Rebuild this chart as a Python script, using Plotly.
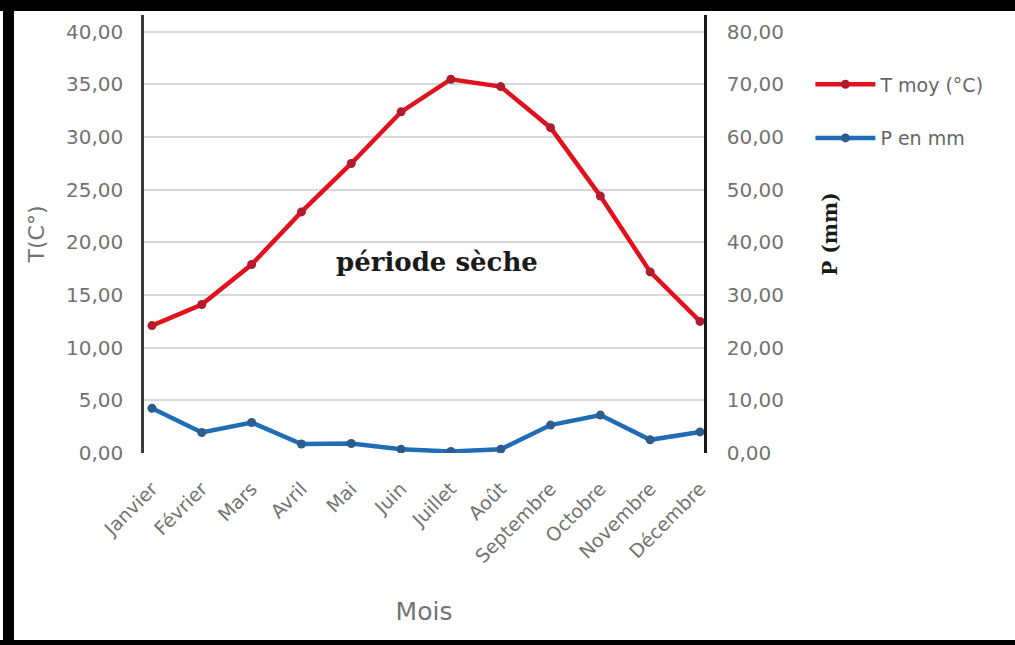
import plotly.graph_objects as go

mois = ["Janvier", "Février", "Mars", "Avril", "Mai", "Juin", "Juillet",
        "Août", "Septembre", "Octobre", "Novembre", "Décembre"]
t_moy = [12.1, 14.1, 17.9, 22.9, 27.5, 32.4, 35.5, 34.8, 30.9, 24.4, 17.2, 12.5]
p_mm = [8.5, 3.9, 5.8, 1.7, 1.8, 0.7, 0.3, 0.7, 5.3, 7.2, 2.5, 4.0]

t_ticks = [0, 5, 10, 15, 20, 25, 30, 35, 40]
p_ticks = [0, 10, 20, 30, 40, 50, 60, 70, 80]

def fr(v):
    return f"{v:.2f}".replace(".", ",")

GRAY = "#737373"
TICK_FONT = dict(family="DejaVu Sans", size=20, color=GRAY)

fig = go.Figure()
fig.add_trace(go.Scatter(
    x=list(range(len(mois))), y=t_moy, name="T moy (°C)", mode="lines+markers",
    line=dict(color="#E0121E", width=4.5),
    marker=dict(size=9, color="#B01C2E", symbol="circle"),
    legendgroup="t", yaxis="y"))
fig.add_trace(go.Scatter(
    x=list(range(len(mois))), y=p_mm, name="P en mm", mode="lines+markers",
    line=dict(color="#1F6EB5", width=4.5),
    marker=dict(size=9, color="#2E5C8C", symbol="circle"),
    legendgroup="p", yaxis="y2"))

W, H = 1015, 645
ML, MR, MT, MB = 144, 311, 15, 192

fig.update_layout(
    width=W, height=H,
    margin=dict(l=ML, r=MR, t=MT, b=MB),
    paper_bgcolor="white", plot_bgcolor="white",
    showlegend=True,
    legend=dict(x=1.19, y=0.885, xanchor="left", yanchor="top",
                font=dict(family="DejaVu Sans", size=19, color="#666666"),
                tracegroupgap=26, itemwidth=60, bgcolor="rgba(0,0,0,0)"),
    xaxis=dict(
        range=[-0.16, 11.08], tickmode="array",
        tickvals=list(range(len(mois))), ticktext=mois, tickangle=-45,
        tickfont=dict(family="DejaVu Sans", size=19, color=GRAY),
        ticklabelstandoff=20,
        showgrid=False, zeroline=False, showline=False,
        ticks="", title=dict(text="Mois", font=dict(family="DejaVu Sans", size=25, color=GRAY),
                             standoff=36)),
    yaxis=dict(
        range=[0, 41.6], tickmode="array", tickvals=t_ticks,
        ticktext=[fr(v) for v in t_ticks], tickfont=TICK_FONT,
        showgrid=True, gridcolor="#D9D9D9", gridwidth=1.5, zeroline=False,
        showline=True, linecolor="#3a3a3a", linewidth=2.5, ticks="",
        ticklabelstandoff=14,
        title=dict(text="T(C°)", font=dict(family="DejaVu Sans", size=22, color=GRAY),
                   standoff=16)),
    yaxis2=dict(
        range=[0, 83.2], overlaying="y", side="right", tickmode="array",
        tickvals=p_ticks, ticktext=[fr(v) for v in p_ticks], tickfont=TICK_FONT,
        showgrid=False, zeroline=False, showline=True, linecolor="#1a1a1a",
        linewidth=2.5, ticks="", ticklabelstandoff=16,
        title=dict(text="P (mm)", font=dict(family="DejaVu Serif", size=20, color="#1a1a1a",
                                            weight="bold"), standoff=40)),
    annotations=[dict(x=5.72, y=18.1, xref="x", yref="y", text="<b>période sèche</b>",
                      showarrow=False,
                      font=dict(family="DejaVu Serif", size=26, color="#1a1a1a"))],
)

pw, ph = W - ML - MR, H - MT - MB
def px(xp):
    return (xp - ML) / pw
def py(yp):
    return (H - MB - yp) / ph

# black frame visible in the reference picture (top, left, bottom)
fig.layout.shapes = [
    dict(type="rect", xref="paper", yref="paper", x0=px(0), x1=px(W), y0=py(0), y1=py(11),
         line=dict(width=0), fillcolor="black", layer="above"),
    dict(type="rect", xref="paper", yref="paper", x0=px(3), x1=px(14), y0=py(0), y1=py(H),
         line=dict(width=0), fillcolor="black", layer="above"),
    dict(type="rect", xref="paper", yref="paper", x0=px(0), x1=px(W), y0=py(640), y1=py(H),
         line=dict(width=0), fillcolor="black", layer="above"),
]

fig.write_html("out.html")
